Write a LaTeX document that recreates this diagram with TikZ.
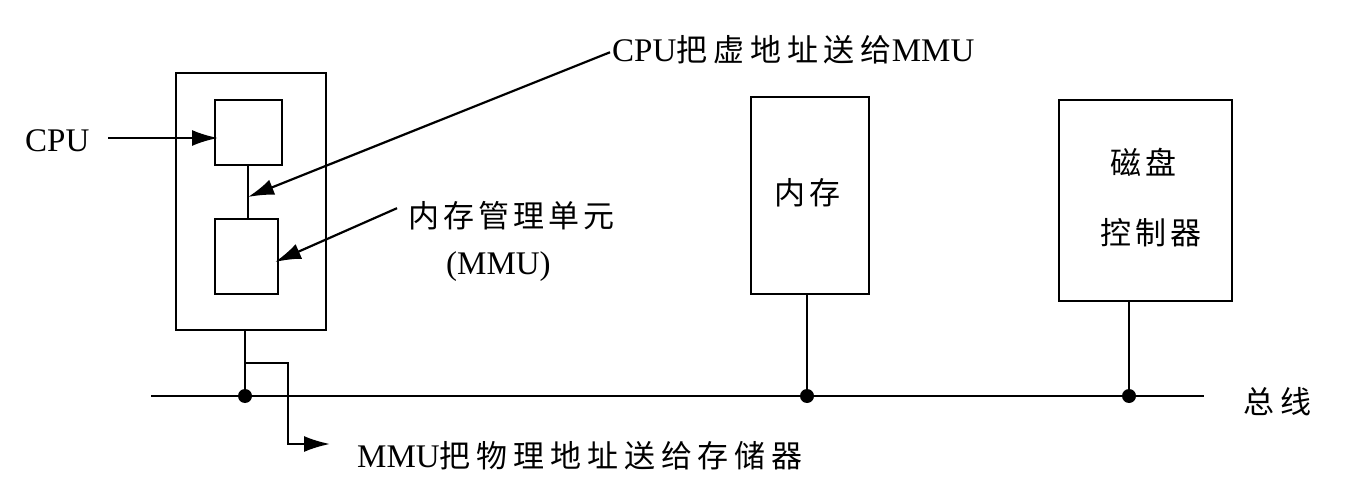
\documentclass[tikz,border=0pt]{standalone}
\usepackage{fontspec}
\setmainfont{Liberation Serif}
\newfontfamily\cjkA[LetterSpace=13]{Noto Sans CJK SC}
\newfontfamily\cjkB[LetterSpace=19]{Noto Sans CJK SC}
\newfontfamily\cjkC[LetterSpace=19]{Noto Sans CJK SC}
\newcommand\zhA[1]{{\cjkA\fontsize{31}{34}\selectfont #1}}
\newcommand\zhB[1]{{\cjkB\fontsize{31}{34}\selectfont #1}}
\newcommand\zhC[1]{{\cjkC\fontsize{31}{34}\selectfont #1}}
\usetikzlibrary{arrows.meta,shapes.geometric}
\begin{document}
\begin{tikzpicture}[x=1pt,y=-1pt,
  box/.style={draw, line width=2.2pt, inner sep=0pt, anchor=north west},
  ln/.style={line width=2.2pt},
  arr/.style={line width=2.2pt, -{Latex[length=26pt,width=16pt]}},
  dot/.style={circle, fill, inner sep=0pt, minimum size=14pt},
  txt/.style={inner sep=0pt, anchor=base west, font=\fontsize{33}{36}\selectfont}
]
\useasboundingbox (0,0) rectangle (1360,494);
% boxes
\node[box, minimum width=150pt, minimum height=257pt] (outer) at (175,72) {};
\node[box, minimum width=67pt, minimum height=65pt] (cpu) at (214,99) {};
\node[box, minimum width=63pt, minimum height=75pt] (mmu) at (214,218) {};
\node[box, minimum width=118pt, minimum height=197pt] (mem) at (750,96) {};
\node[box, minimum width=173pt, minimum height=201pt] (disk) at (1058,99) {};
% box texts
\node[txt] (memtxt) at (774,205) {\zhA{内存}};
\node[txt] (disktxt1) at (1110,175) {\zhA{磁盘}};
\node[txt] (disktxt2) at (1100,245) {\zhA{控制器}};
% labels
\node[txt] (cputxt) at (25,152) {CPU};
\node[txt] (lbl1) at (612,62) {CPU\zhB{把虚地址送给}MMU};
\node[txt] (lbl2) at (408,228) {\zhA{内存管理单元}};
\node[txt] (lbl3) at (446,275) {(MMU)};
\node[txt] (lbl4) at (357,467) {MMU\zhC{把物理地址送给存储器}};
\node[txt] (buslbl) at (1243,413) {\zhB{总线}};
% coordinates
\coordinate (c0) at (108,138);
\coordinate (t0) at (218,138);
\coordinate (t1) at (248,197);
\coordinate (t2) at (275,262);
\coordinate (busL) at (151,396);
\coordinate (busR) at (1204,396);
\coordinate (b1) at (245,363);
\coordinate (b2) at (288,363);
\coordinate (b3) at (288,444);
\coordinate (t4) at (330,444);
% bus
\draw[ln] (busL) -- (busR);
\node[dot] (d1) at (245,396) {};
\node[dot] (d2) at (807,396) {};
\node[dot] (d3) at (1129,396) {};
\draw[ln] (d1 |- outer.south) -- (d1);
\draw[ln] (d2 |- mem.south) -- (d2);
\draw[ln] (d3 |- disk.south) -- (d3);
% cpu-mmu link
\draw[ln] (t1 |- cpu.south) -- (t1 |- mmu.north);
% arrows
\draw[arr] (c0) -- (t0);
\draw[arr] ([xshift=-2pt,yshift=-2pt]lbl1.west) -- (t1);
\draw[arr] ([xshift=-11pt,yshift=8pt]lbl2.west) -- (t2);
\draw[arr] (b1) -- (b2) -- (b3) -- (t4);
\end{tikzpicture}
\end{document}
